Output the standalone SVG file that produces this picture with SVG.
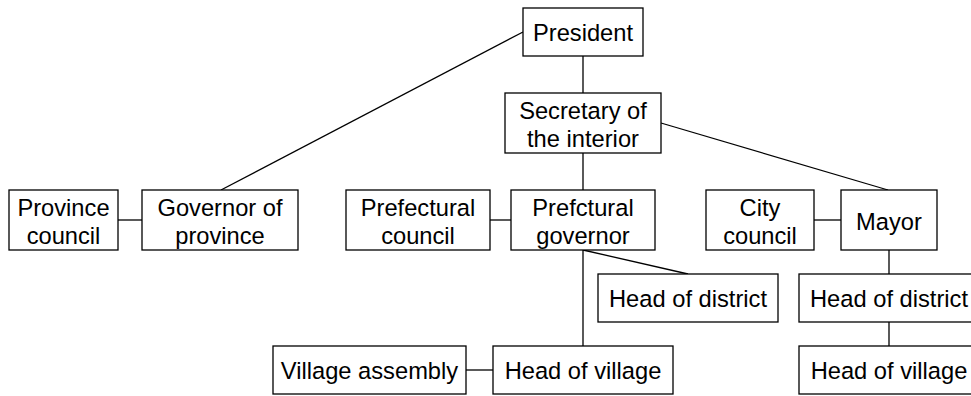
<svg xmlns="http://www.w3.org/2000/svg" width="971" height="396" viewBox="0 0 971 396">
<style>
.box{fill:#fff;stroke:#000;stroke-width:1.3}
.lbl{font-family:"Liberation Sans",Arial,sans-serif;font-size:23.7px;fill:#000;text-anchor:middle}
.edge{stroke:#000;stroke-width:1.3;fill:none}
</style>
<rect width="971" height="396" fill="#fff"/>
<g id="connectors">
<line class="edge" x1="523" y1="32" x2="221" y2="190"/>
<line class="edge" x1="583" y1="56" x2="583" y2="93"/>
<line class="edge" x1="661" y1="123" x2="888" y2="190"/>
<line class="edge" x1="583" y1="153" x2="583" y2="190"/>
<line class="edge" x1="118" y1="220" x2="142" y2="220"/>
<line class="edge" x1="490" y1="220" x2="511" y2="220"/>
<line class="edge" x1="814" y1="220" x2="841" y2="220"/>
<line class="edge" x1="583" y1="250" x2="688" y2="274"/>
<line class="edge" x1="583" y1="250" x2="583" y2="346"/>
<line class="edge" x1="466" y1="370" x2="493" y2="370"/>
<line class="edge" x1="889" y1="250" x2="889" y2="274"/>
<line class="edge" x1="889" y1="322" x2="889" y2="346"/>
</g>
<g id="president"><rect class="box" x="523" y="8" width="120" height="48"/><text class="lbl" x="583" y="41">President</text></g>
<g id="secretary"><rect class="box" x="505" y="93" width="156" height="60"/><text class="lbl" x="583" y="118.5">Secretary of</text><text class="lbl" x="583" y="146.5">the interior</text></g>
<g id="province-council"><rect class="box" x="9" y="190" width="109" height="60"/><text class="lbl" x="63.5" y="215.5">Province</text><text class="lbl" x="63.5" y="243.5">council</text></g>
<g id="governor-province"><rect class="box" x="142" y="190" width="156" height="60"/><text class="lbl" x="220" y="215.5">Governor of</text><text class="lbl" x="220" y="243.5">province</text></g>
<g id="prefectural-council"><rect class="box" x="346" y="190" width="144" height="60"/><text class="lbl" x="418" y="215.5">Prefectural</text><text class="lbl" x="418" y="243.5">council</text></g>
<g id="prefectural-governor"><rect class="box" x="511" y="190" width="144" height="60"/><text class="lbl" x="583" y="215.5">Prefctural</text><text class="lbl" x="583" y="243.5">governor</text></g>
<g id="city-council"><rect class="box" x="706" y="190" width="108" height="60"/><text class="lbl" x="760" y="215.5">City</text><text class="lbl" x="760" y="243.5">council</text></g>
<g id="mayor"><rect class="box" x="841" y="190" width="96" height="60"/><text class="lbl" x="889" y="229.5">Mayor</text></g>
<g id="head-district-1"><rect class="box" x="598" y="274" width="180" height="48"/><text class="lbl" x="688" y="306.5">Head of district</text></g>
<g id="head-district-2"><rect class="box" x="799" y="274" width="180" height="48"/><text class="lbl" x="889" y="306.5">Head of district</text></g>
<g id="village-assembly"><rect class="box" x="273" y="346" width="193" height="48"/><text class="lbl" x="369.5" y="378.5">Village assembly</text></g>
<g id="head-village-1"><rect class="box" x="493" y="346" width="180" height="48"/><text class="lbl" x="583" y="378.5">Head of village</text></g>
<g id="head-village-2"><rect class="box" x="799" y="346" width="180" height="48"/><text class="lbl" x="889" y="378.5">Head of village</text></g>
</svg>
